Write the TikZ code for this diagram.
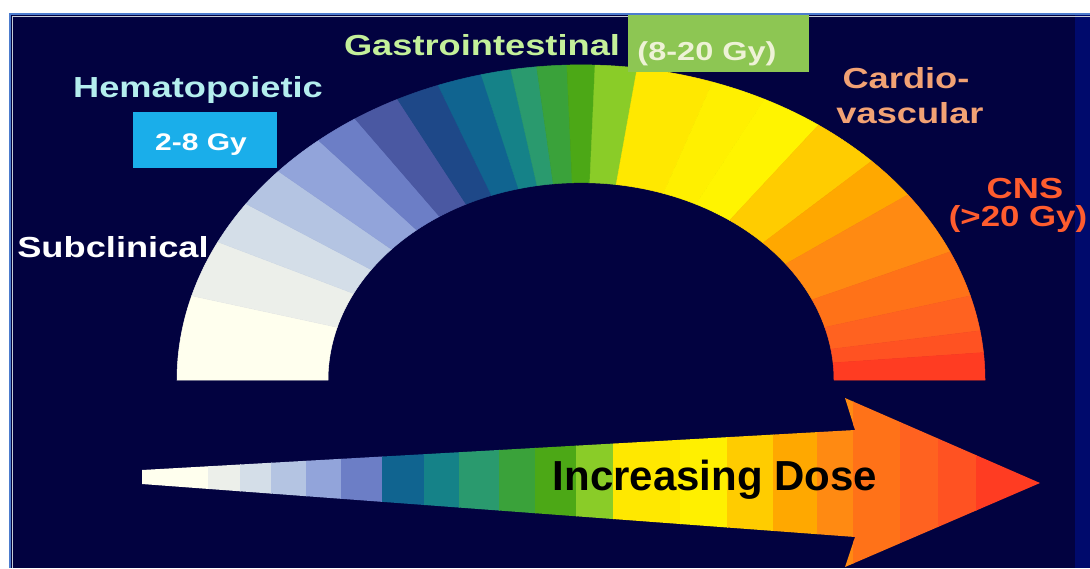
\documentclass[tikz,border=0pt]{standalone}
\usepackage{fontspec}
\setmainfont{Liberation Sans}
\usepackage{graphicx}

\definecolor{navy}{RGB}{2,2,64}
\definecolor{navyedge}{RGB}{0,10,108}
\definecolor{frameblue}{RGB}{76,124,206}
\definecolor{framegrey}{RGB}{196,204,216}
% dose colours, low to high
\definecolor{c1}{HTML}{FFFFEE}
\definecolor{c2}{HTML}{ECEFEA}
\definecolor{c3}{HTML}{D4DEE8}
\definecolor{c4}{HTML}{B4C4E2}
\definecolor{c5}{HTML}{92A4DA}
\definecolor{c6}{HTML}{6C7EC6}
\definecolor{c7}{HTML}{4A58A2}
\definecolor{c8}{HTML}{1E4888}
\definecolor{c9}{HTML}{106490}
\definecolor{c10}{HTML}{158288}
\definecolor{c11}{HTML}{2A9A6E}
\definecolor{c12}{HTML}{3AA23A}
\definecolor{c13}{HTML}{4CA816}
\definecolor{c14}{HTML}{8ACC28}
\definecolor{c15}{HTML}{FFE800}
\definecolor{c16}{HTML}{FFF000}
\definecolor{c17}{HTML}{FFF400}
\definecolor{c18}{HTML}{FFCC00}
\definecolor{c19}{HTML}{FFA800}
\definecolor{c20}{HTML}{FF8A12}
\definecolor{c21}{HTML}{FF7218}
\definecolor{c22}{HTML}{FF6220}
\definecolor{c23}{HTML}{FF5222}
\definecolor{c24}{HTML}{FF3C22}
% label colours
\definecolor{hemacol}{HTML}{B4EEEE}
\definecolor{hemabox}{HTML}{1AAEEA}
\definecolor{gastrocol}{HTML}{C4F09A}
\definecolor{gastrobox}{HTML}{8DC653}
\definecolor{gastrotext}{HTML}{EEF2D6}
\definecolor{cardiocol}{HTML}{F2A274}
\definecolor{cnscol}{HTML}{FF5C2E}

\newcommand{\stretchlab}[1]{\scalebox{1.25}[1]{#1}}

\begin{document}
\begin{tikzpicture}[x=1pt, y=-1pt,
    lab/.style={font=\bfseries\fontsize{29}{32}\selectfont, inner sep=0pt, anchor=base},
    smalllab/.style={font=\bfseries\fontsize{24}{28}\selectfont, inner sep=0pt, anchor=base},
    seg/.style={fill=#1, draw=#1, line width=0.5pt}]
    % Background and frame
    \clip (0,0) rectangle (1090,568);
    \fill[white] (0,0) rectangle (1090,568);
    \fill[navy] (10,14) rectangle (1090,568);
    \fill[navyedge] (1075,15) rectangle (1090,568);
    \draw[frameblue, line width=2pt] (10,568) -- (10,14) -- (1090,14);
    \draw[framegrey, line width=0.8pt] (12.2,568) -- (12.2,16.2) -- (1090,16.2);

    % Dose arc
    \begin{scope}[shift={(581,380)}, yscale=-0.78]
        \foreach \a/\b/\c in {180/164.5/c1, 164.5/154/c2, 154/146/c3, 146/138.5/c4,
            138.5/130.5/c5, 130.5/124/c6, 124/117/c7, 117/110.7/c8, 110.7/104.3/c9,
            104.3/100/c10, 100/96.3/c11, 96.3/92/c12, 92/88/c13, 88/82/c14,
            82/71/c15, 71/63/c16, 63/54/c17, 54/44/c18, 44/36/c19, 36/24/c20,
            24/15.5/c21, 15.5/9/c22, 9/5/c23, 5/0/c24}
            \filldraw[seg=\c] (\a:404) arc[start angle=\a, end angle=\b, radius=404]
                -- (\b:253) arc[start angle=\b, end angle=\a, radius=253] -- cycle;
    \end{scope}

    % Increasing dose arrow
    \coordinate (tailtop) at (142,470);
    \coordinate (tailbot) at (142,484);
    \coordinate (necktop) at (855,430);
    \coordinate (neckbot) at (855,537);
    \coordinate (barbtop) at (845,398);
    \coordinate (barbbot) at (845,567);
    \coordinate (tip) at (1040,483);
    \begin{scope}
        \clip (tailtop) -- (necktop) -- (barbtop) -- (tip) -- (barbbot) -- (neckbot) -- (tailbot) -- cycle;
        \foreach \xa/\xb/\c in {142/208/c1, 208/240/c2, 240/271/c3, 271/306/c4,
            306/341/c5, 341/382/c6, 382/424/c9, 424/459/c10, 459/499/c11,
            499/535/c12, 535/576/c13, 576/613/c14, 613/680/c15, 680/727/c16,
            727/773/c18, 773/817/c19, 817/853/c20, 853/900/c21, 900/938/c22,
            938/976/c23, 976/1045/c24}
            \fill[\c] (\xa,380) rectangle (\xb+0.6,568);
    \end{scope}
    \node[font=\bfseries\fontsize{42}{46}\selectfont, inner sep=0pt, anchor=base] (dose) at (715,490) {Increasing Dose};

    % Labels
    \node[lab, text=white] (subclin) at (113,257) {\stretchlab{Subclinical}};
    \node[lab, text=hemacol] (hemat) at (198,97) {\stretchlab{Hematopoietic}};
    \node[fill=hemabox, minimum width=144pt, minimum height=56pt, inner sep=0pt] (hemabox) at (205,140) {};
    \node[smalllab, text=white] (hemadose) at (201,150) {\stretchlab{2-8 Gy}};
    \node[lab, text=gastrocol] (gastro) at (482,55) {\stretchlab{Gastrointestinal}};
    \node[fill=gastrobox, minimum width=181pt, minimum height=57pt, inner sep=0pt] (gastrobox) at (718,43) {};
    \node[lab, font=\bfseries\fontsize{26}{30}\selectfont, text=gastrotext] (gastrodose) at (707,60) {\stretchlab{(8-20 Gy)}};
    \node[lab, text=cardiocol] (cardio) at (906,88) {\stretchlab{Cardio-}};
    \node[lab, text=cardiocol] (vascular) at (910,123) {\stretchlab{vascular}};
    \node[lab, text=cnscol] (cns) at (1025,198) {\stretchlab{CNS}};
    \node[lab, text=cnscol] (cnsdose) at (1018,226) {\scalebox{1.2}[1]{(>20 Gy)}};
\end{tikzpicture}
\end{document}
